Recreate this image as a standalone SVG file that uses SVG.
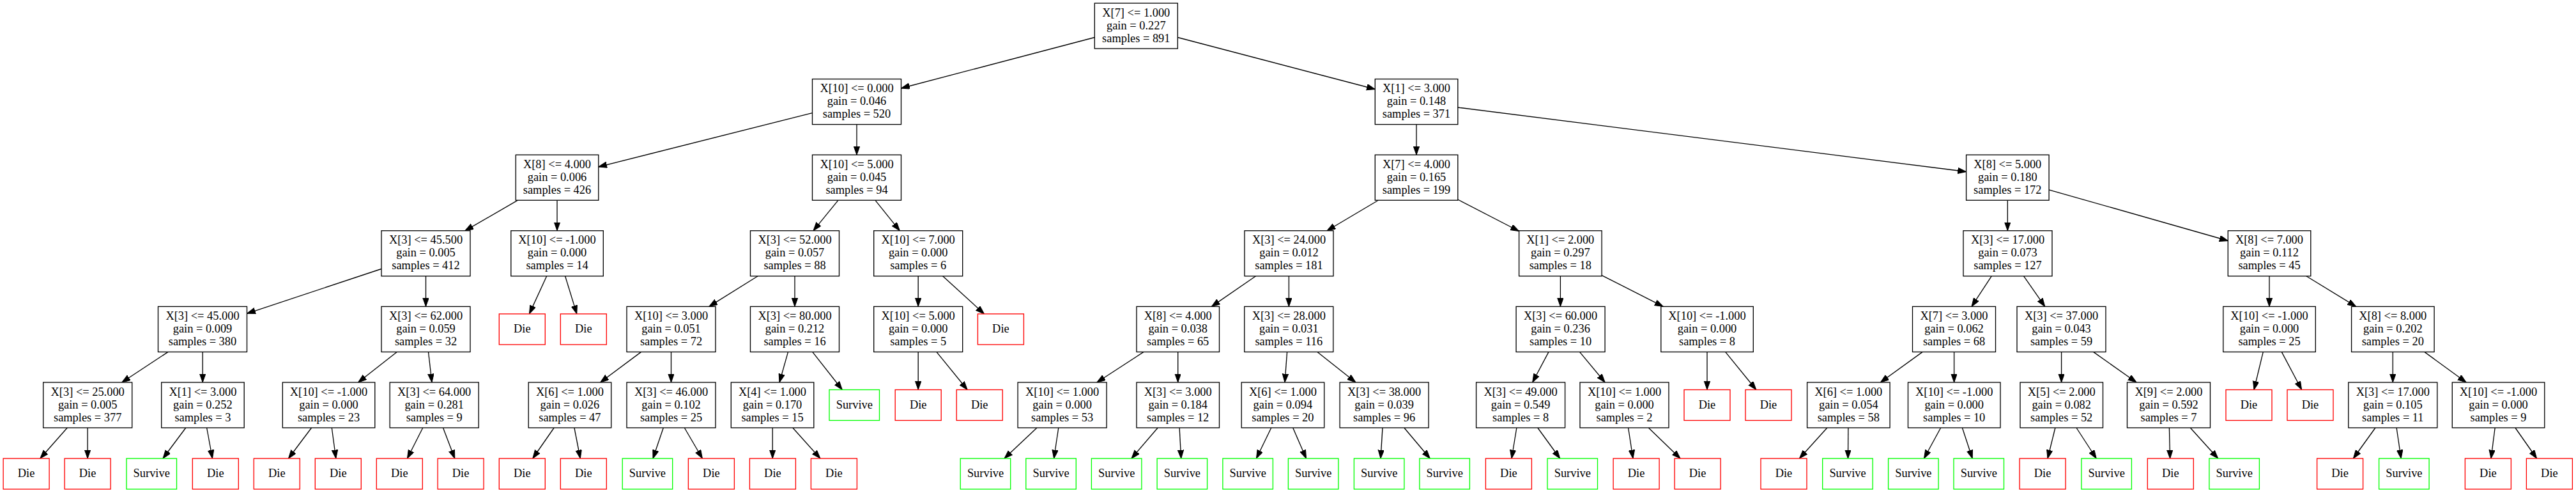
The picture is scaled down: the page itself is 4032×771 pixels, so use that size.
<svg xmlns="http://www.w3.org/2000/svg" width="4032" height="771" viewBox="0 0 4032 771">
<style>
.d rect{fill:#fff;stroke:#000;stroke-width:1.33}
.die rect{fill:#fff;stroke:#ff0000;stroke-width:1.33}
.sv rect{fill:#fff;stroke:#00ff00;stroke-width:1.33}
text{font-family:"Liberation Serif","Times New Roman",serif;font-size:18.4px;text-anchor:middle;fill:#000}
#edges path{fill:none;stroke:#000;stroke-width:1.33;marker-end:url(#ah)}
</style>
<defs>
<marker id="ah" markerUnits="userSpaceOnUse" markerWidth="15" markerHeight="11" viewBox="0 0 15 11" refX="13.3" refY="4.7" orient="auto"><path d="M0,0 L13.3,4.7 L0,9.4 z" fill="#000" stroke="#000" stroke-width="1"/></marker>
</defs>
<rect width="4032" height="771" fill="#fff"/>
<g id="edges">
<path d="M1713.3,58.5L1410.5,138"/>
<path d="M1843.3,58.5L2152.3,139.5"/>
<path d="M1271.5,176.7L936.7,261"/>
<path d="M1341,194.6L1341,242.2"/>
<path d="M2217,194.6L2217,242.2"/>
<path d="M2281.7,168L3077.5,268.5"/>
<path d="M810.5,313.2L727.9,360.8"/>
<path d="M872,313.2L872,360.8"/>
<path d="M1312,313.2L1273,360.8"/>
<path d="M1369.9,313.2L1408.3,360.8"/>
<path d="M2157.3,313.2L2077.1,360.8"/>
<path d="M2281.7,312L2377.6,361.5"/>
<path d="M3142.3,313.2L3142.3,360.8"/>
<path d="M3207,296.8L3487.3,376.5"/>
<path d="M597,420.5L386.5,490.3"/>
<path d="M666.5,431.8L666.5,479.4"/>
<path d="M855.7,431.8L828.5,490.9"/>
<path d="M884.6,431.8L902.8,490.9"/>
<path d="M1186.2,431.8L1109.8,479.4"/>
<path d="M1244,431.8L1244,479.4"/>
<path d="M1437.2,431.8L1437.2,479.4"/>
<path d="M1475.6,431.8L1540.5,490.9"/>
<path d="M1965.6,431.8L1896.4,479.4"/>
<path d="M2017.4,431.8L2017.4,479.4"/>
<path d="M2442.4,431.8L2442.4,479.4"/>
<path d="M2506.6,430.3L2603.2,479.4"/>
<path d="M3117.2,431.8L3086,479.4"/>
<path d="M3167.6,431.8L3200.8,479.4"/>
<path d="M3552,431.8L3552,479.4"/>
<path d="M3609.8,431.8L3687.7,479.4"/>
<path d="M263.1,550.4L190.8,598"/>
<path d="M317.2,550.4L317.2,598"/>
<path d="M621.2,550.4L560.6,598"/>
<path d="M670.5,550.4L676,598"/>
<path d="M1003.6,550.4L939.6,598"/>
<path d="M1050.5,550.4L1050.5,598"/>
<path d="M1233.5,550.4L1220,598"/>
<path d="M1271.7,550.4L1318.3,609.5"/>
<path d="M1437.2,550.4L1437.2,609.5"/>
<path d="M1465.9,550.4L1514.1,609.5"/>
<path d="M1790.1,550.4L1716.9,598"/>
<path d="M1843.7,550.4L1843.7,598"/>
<path d="M2014.6,550.4L2011,598"/>
<path d="M2062,550.4L2122,598"/>
<path d="M2424,550.4L2398.7,598"/>
<path d="M2472.5,550.4L2512.2,598"/>
<path d="M2672,550.4L2672,609.5"/>
<path d="M2700.6,550.4L2748.8,609.5"/>
<path d="M3009.2,550.4L2943.3,598"/>
<path d="M3058.6,550.4L3058.6,598"/>
<path d="M3226.6,550.4L3226.6,598"/>
<path d="M3276.6,550.4L3344,598"/>
<path d="M3542.3,550.4L3528,609.5"/>
<path d="M3571.3,550.4L3602.6,609.5"/>
<path d="M3745.3,550.4L3745.3,598"/>
<path d="M3794.8,550.4L3860.2,598"/>
<path d="M105.3,669L62.9,717"/>
<path d="M137.1,669L137.1,717"/>
<path d="M290.8,669L255,717"/>
<path d="M323.6,669L332.5,717"/>
<path d="M487.6,669L451.5,717"/>
<path d="M519.3,669L525.8,717"/>
<path d="M661.8,669L637.5,717"/>
<path d="M693.5,669L711.8,717"/>
<path d="M867.2,669L833.8,717"/>
<path d="M898.9,669L908.3,717"/>
<path d="M1038.3,669L1022,717"/>
<path d="M1071.3,669L1099.4,717"/>
<path d="M1209.2,669L1209.2,717"/>
<path d="M1240.8,669L1283.9,717"/>
<path d="M1623,669L1572,717"/>
<path d="M1656.8,669L1649.6,717"/>
<path d="M1812.2,669L1771,717"/>
<path d="M1846.1,669L1848.7,717"/>
<path d="M1989.8,669L1966.5,717"/>
<path d="M2023.7,669L2044.5,717"/>
<path d="M2164,669L2161,717"/>
<path d="M2197.8,669L2238.3,717"/>
<path d="M2373.9,669L2366,717"/>
<path d="M2406.8,669L2441.7,717"/>
<path d="M2548.6,669L2556,717"/>
<path d="M2580.3,669L2630,717"/>
<path d="M2859.9,669L2816.5,717"/>
<path d="M2892.9,669L2892.5,717"/>
<path d="M3037.7,669L3011.5,717"/>
<path d="M3071.4,669L3087.2,717"/>
<path d="M3216.9,669L3205,717"/>
<path d="M3250,669L3281.2,717"/>
<path d="M3395.4,669L3396.6,717"/>
<path d="M3428.3,669L3471.7,717"/>
<path d="M3718,669L3683.4,717"/>
<path d="M3751.1,669L3758.2,717"/>
<path d="M3905.2,669L3899,717"/>
<path d="M3936.9,669L3970.6,717"/>
</g>
<g id="root" class="d"><rect x="1713.3" y="5" width="130" height="71"/><text><tspan x="1778.3" y="25.5">X[7] &lt;= 1.000</tspan><tspan x="1778.3" y="45.5">gain = 0.227</tspan><tspan x="1778.3" y="65.5">samples = 891</tspan></text></g>
<g id="A" class="d"><rect x="1271.5" y="123.6" width="139" height="71"/><text><tspan x="1341" y="144.1">X[10] &lt;= 0.000</tspan><tspan x="1341" y="164.1">gain = 0.046</tspan><tspan x="1341" y="184.1">samples = 520</tspan></text></g>
<g id="B" class="d"><rect x="2152.3" y="123.6" width="129.5" height="71"/><text><tspan x="2217" y="144.1">X[1] &lt;= 3.000</tspan><tspan x="2217" y="164.1">gain = 0.148</tspan><tspan x="2217" y="184.1">samples = 371</tspan></text></g>
<g id="A1" class="d"><rect x="807.3" y="242.2" width="129.5" height="71"/><text><tspan x="872" y="262.7">X[8] &lt;= 4.000</tspan><tspan x="872" y="282.7">gain = 0.006</tspan><tspan x="872" y="302.7">samples = 426</tspan></text></g>
<g id="A2" class="d"><rect x="1271.5" y="242.2" width="139" height="71"/><text><tspan x="1341" y="262.7">X[10] &lt;= 5.000</tspan><tspan x="1341" y="282.7">gain = 0.045</tspan><tspan x="1341" y="302.7">samples = 94</tspan></text></g>
<g id="B1" class="d"><rect x="2152.3" y="242.2" width="129.5" height="71"/><text><tspan x="2217" y="262.7">X[7] &lt;= 4.000</tspan><tspan x="2217" y="282.7">gain = 0.165</tspan><tspan x="2217" y="302.7">samples = 199</tspan></text></g>
<g id="B2" class="d"><rect x="3077.6" y="242.2" width="129.5" height="71"/><text><tspan x="3142.3" y="262.7">X[8] &lt;= 5.000</tspan><tspan x="3142.3" y="282.7">gain = 0.180</tspan><tspan x="3142.3" y="302.7">samples = 172</tspan></text></g>
<g id="A1a" class="d"><rect x="597" y="360.8" width="139" height="71"/><text><tspan x="666.5" y="381.3">X[3] &lt;= 45.500</tspan><tspan x="666.5" y="401.3">gain = 0.005</tspan><tspan x="666.5" y="421.3">samples = 412</tspan></text></g>
<g id="A1b" class="d"><rect x="799.8" y="360.8" width="144.5" height="71"/><text><tspan x="872" y="381.3">X[10] &lt;= -1.000</tspan><tspan x="872" y="401.3">gain = 0.000</tspan><tspan x="872" y="421.3">samples = 14</tspan></text></g>
<g id="A2a" class="d"><rect x="1174.5" y="360.8" width="139" height="71"/><text><tspan x="1244" y="381.3">X[3] &lt;= 52.000</tspan><tspan x="1244" y="401.3">gain = 0.057</tspan><tspan x="1244" y="421.3">samples = 88</tspan></text></g>
<g id="A2b" class="d"><rect x="1367.7" y="360.8" width="139" height="71"/><text><tspan x="1437.2" y="381.3">X[10] &lt;= 7.000</tspan><tspan x="1437.2" y="401.3">gain = 0.000</tspan><tspan x="1437.2" y="421.3">samples = 6</tspan></text></g>
<g id="B1a" class="d"><rect x="1948" y="360.8" width="139" height="71"/><text><tspan x="2017.5" y="381.3">X[3] &lt;= 24.000</tspan><tspan x="2017.5" y="401.3">gain = 0.012</tspan><tspan x="2017.5" y="421.3">samples = 181</tspan></text></g>
<g id="B1b" class="d"><rect x="2377.6" y="360.8" width="129.5" height="71"/><text><tspan x="2442.3" y="381.3">X[1] &lt;= 2.000</tspan><tspan x="2442.3" y="401.3">gain = 0.297</tspan><tspan x="2442.3" y="421.3">samples = 18</tspan></text></g>
<g id="B2a" class="d"><rect x="3073" y="360.8" width="139" height="71"/><text><tspan x="3142.5" y="381.3">X[3] &lt;= 17.000</tspan><tspan x="3142.5" y="401.3">gain = 0.073</tspan><tspan x="3142.5" y="421.3">samples = 127</tspan></text></g>
<g id="B2b" class="d"><rect x="3487.3" y="360.8" width="129.5" height="71"/><text><tspan x="3552" y="381.3">X[8] &lt;= 7.000</tspan><tspan x="3552" y="401.3">gain = 0.112</tspan><tspan x="3552" y="421.3">samples = 45</tspan></text></g>
<g id="n1" class="d"><rect x="247.5" y="479.4" width="139" height="71"/><text><tspan x="317" y="499.9">X[3] &lt;= 45.000</tspan><tspan x="317" y="519.9">gain = 0.009</tspan><tspan x="317" y="539.9">samples = 380</tspan></text></g>
<g id="n2" class="d"><rect x="597" y="479.4" width="139" height="71"/><text><tspan x="666.5" y="499.9">X[3] &lt;= 62.000</tspan><tspan x="666.5" y="519.9">gain = 0.059</tspan><tspan x="666.5" y="539.9">samples = 32</tspan></text></g>
<g id="n3" class="d"><rect x="981" y="479.4" width="139" height="71"/><text><tspan x="1050.5" y="499.9">X[10] &lt;= 3.000</tspan><tspan x="1050.5" y="519.9">gain = 0.051</tspan><tspan x="1050.5" y="539.9">samples = 72</tspan></text></g>
<g id="n4" class="d"><rect x="1174.5" y="479.4" width="139" height="71"/><text><tspan x="1244" y="499.9">X[3] &lt;= 80.000</tspan><tspan x="1244" y="519.9">gain = 0.212</tspan><tspan x="1244" y="539.9">samples = 16</tspan></text></g>
<g id="n5" class="d"><rect x="1367.7" y="479.4" width="139" height="71"/><text><tspan x="1437.2" y="499.9">X[10] &lt;= 5.000</tspan><tspan x="1437.2" y="519.9">gain = 0.000</tspan><tspan x="1437.2" y="539.9">samples = 5</tspan></text></g>
<g id="n6" class="d"><rect x="1779" y="479.4" width="129.5" height="71"/><text><tspan x="1843.7" y="499.9">X[8] &lt;= 4.000</tspan><tspan x="1843.7" y="519.9">gain = 0.038</tspan><tspan x="1843.7" y="539.9">samples = 65</tspan></text></g>
<g id="n7" class="d"><rect x="1947.8" y="479.4" width="139" height="71"/><text><tspan x="2017.3" y="499.9">X[3] &lt;= 28.000</tspan><tspan x="2017.3" y="519.9">gain = 0.031</tspan><tspan x="2017.3" y="539.9">samples = 116</tspan></text></g>
<g id="n8" class="d"><rect x="2373.1" y="479.4" width="139" height="71"/><text><tspan x="2442.6" y="499.9">X[3] &lt;= 60.000</tspan><tspan x="2442.6" y="519.9">gain = 0.236</tspan><tspan x="2442.6" y="539.9">samples = 10</tspan></text></g>
<g id="n9" class="d"><rect x="2599.8" y="479.4" width="144.5" height="71"/><text><tspan x="2672" y="499.9">X[10] &lt;= -1.000</tspan><tspan x="2672" y="519.9">gain = 0.000</tspan><tspan x="2672" y="539.9">samples = 8</tspan></text></g>
<g id="n10" class="d"><rect x="2993.5" y="479.4" width="130" height="71"/><text><tspan x="3058.5" y="499.9">X[7] &lt;= 3.000</tspan><tspan x="3058.5" y="519.9">gain = 0.062</tspan><tspan x="3058.5" y="539.9">samples = 68</tspan></text></g>
<g id="n11" class="d"><rect x="3157" y="479.4" width="139" height="71"/><text><tspan x="3226.5" y="499.9">X[3] &lt;= 37.000</tspan><tspan x="3226.5" y="519.9">gain = 0.043</tspan><tspan x="3226.5" y="539.9">samples = 59</tspan></text></g>
<g id="n12" class="d"><rect x="3479.8" y="479.4" width="144.5" height="71"/><text><tspan x="3552" y="499.9">X[10] &lt;= -1.000</tspan><tspan x="3552" y="519.9">gain = 0.000</tspan><tspan x="3552" y="539.9">samples = 25</tspan></text></g>
<g id="n13" class="d"><rect x="3680.6" y="479.4" width="129.5" height="71"/><text><tspan x="3745.3" y="499.9">X[8] &lt;= 8.000</tspan><tspan x="3745.3" y="519.9">gain = 0.202</tspan><tspan x="3745.3" y="539.9">samples = 20</tspan></text></g>
<g id="m1" class="d"><rect x="67.7" y="598" width="139" height="71"/><text><tspan x="137.2" y="618.5">X[3] &lt;= 25.000</tspan><tspan x="137.2" y="638.5">gain = 0.005</tspan><tspan x="137.2" y="658.5">samples = 377</tspan></text></g>
<g id="m2" class="d"><rect x="252.7" y="598" width="129.5" height="71"/><text><tspan x="317.4" y="618.5">X[1] &lt;= 3.000</tspan><tspan x="317.4" y="638.5">gain = 0.252</tspan><tspan x="317.4" y="658.5">samples = 3</tspan></text></g>
<g id="m3" class="d"><rect x="442.3" y="598" width="144.5" height="71"/><text><tspan x="514.5" y="618.5">X[10] &lt;= -1.000</tspan><tspan x="514.5" y="638.5">gain = 0.000</tspan><tspan x="514.5" y="658.5">samples = 23</tspan></text></g>
<g id="m4" class="d"><rect x="610.2" y="598" width="139" height="71"/><text><tspan x="679.7" y="618.5">X[3] &lt;= 64.000</tspan><tspan x="679.7" y="638.5">gain = 0.281</tspan><tspan x="679.7" y="658.5">samples = 9</tspan></text></g>
<g id="m5" class="d"><rect x="827.2" y="598" width="129.5" height="71"/><text><tspan x="891.9" y="618.5">X[6] &lt;= 1.000</tspan><tspan x="891.9" y="638.5">gain = 0.026</tspan><tspan x="891.9" y="658.5">samples = 47</tspan></text></g>
<g id="m6" class="d"><rect x="981" y="598" width="139" height="71"/><text><tspan x="1050.5" y="618.5">X[3] &lt;= 46.000</tspan><tspan x="1050.5" y="638.5">gain = 0.102</tspan><tspan x="1050.5" y="658.5">samples = 25</tspan></text></g>
<g id="m7" class="d"><rect x="1144.3" y="598" width="129.5" height="71"/><text><tspan x="1209" y="618.5">X[4] &lt;= 1.000</tspan><tspan x="1209" y="638.5">gain = 0.170</tspan><tspan x="1209" y="658.5">samples = 15</tspan></text></g>
<g id="m8" class="d"><rect x="1593.1" y="598" width="139" height="71"/><text><tspan x="1662.6" y="618.5">X[10] &lt;= 1.000</tspan><tspan x="1662.6" y="638.5">gain = 0.000</tspan><tspan x="1662.6" y="658.5">samples = 53</tspan></text></g>
<g id="m9" class="d"><rect x="1779" y="598" width="129.5" height="71"/><text><tspan x="1843.7" y="618.5">X[3] &lt;= 3.000</tspan><tspan x="1843.7" y="638.5">gain = 0.184</tspan><tspan x="1843.7" y="658.5">samples = 12</tspan></text></g>
<g id="m10" class="d"><rect x="1943.2" y="598" width="129.5" height="71"/><text><tspan x="2007.9" y="618.5">X[6] &lt;= 1.000</tspan><tspan x="2007.9" y="638.5">gain = 0.094</tspan><tspan x="2007.9" y="658.5">samples = 20</tspan></text></g>
<g id="m11" class="d"><rect x="2097.1" y="598" width="139" height="71"/><text><tspan x="2166.6" y="618.5">X[3] &lt;= 38.000</tspan><tspan x="2166.6" y="638.5">gain = 0.039</tspan><tspan x="2166.6" y="658.5">samples = 96</tspan></text></g>
<g id="m12" class="d"><rect x="2310.6" y="598" width="139" height="71"/><text><tspan x="2380.1" y="618.5">X[3] &lt;= 49.000</tspan><tspan x="2380.1" y="638.5">gain = 0.549</tspan><tspan x="2380.1" y="658.5">samples = 8</tspan></text></g>
<g id="m13" class="d"><rect x="2473" y="598" width="139" height="71"/><text><tspan x="2542.5" y="618.5">X[10] &lt;= 1.000</tspan><tspan x="2542.5" y="638.5">gain = 0.000</tspan><tspan x="2542.5" y="658.5">samples = 2</tspan></text></g>
<g id="m14" class="d"><rect x="2828.6" y="598" width="129.5" height="71"/><text><tspan x="2893.3" y="618.5">X[6] &lt;= 1.000</tspan><tspan x="2893.3" y="638.5">gain = 0.054</tspan><tspan x="2893.3" y="658.5">samples = 58</tspan></text></g>
<g id="m15" class="d"><rect x="2986.5" y="598" width="144.5" height="71"/><text><tspan x="3058.7" y="618.5">X[10] &lt;= -1.000</tspan><tspan x="3058.7" y="638.5">gain = 0.000</tspan><tspan x="3058.7" y="658.5">samples = 10</tspan></text></g>
<g id="m16" class="d"><rect x="3162" y="598" width="129.5" height="71"/><text><tspan x="3226.7" y="618.5">X[5] &lt;= 2.000</tspan><tspan x="3226.7" y="638.5">gain = 0.082</tspan><tspan x="3226.7" y="658.5">samples = 52</tspan></text></g>
<g id="m17" class="d"><rect x="3329.5" y="598" width="130" height="71"/><text><tspan x="3394.5" y="618.5">X[9] &lt;= 2.000</tspan><tspan x="3394.5" y="638.5">gain = 0.592</tspan><tspan x="3394.5" y="658.5">samples = 7</tspan></text></g>
<g id="m18" class="d"><rect x="3675.8" y="598" width="139" height="71"/><text><tspan x="3745.3" y="618.5">X[3] &lt;= 17.000</tspan><tspan x="3745.3" y="638.5">gain = 0.105</tspan><tspan x="3745.3" y="658.5">samples = 11</tspan></text></g>
<g id="m19" class="d"><rect x="3838.3" y="598" width="144.5" height="71"/><text><tspan x="3910.5" y="618.5">X[10] &lt;= -1.000</tspan><tspan x="3910.5" y="638.5">gain = 0.000</tspan><tspan x="3910.5" y="658.5">samples = 9</tspan></text></g>
<g id="leafA1b_1" class="die"><rect x="781.3" y="490.9" width="72" height="48"/><text x="817.3" y="520">Die</text></g>
<g id="leafA1b_2" class="die"><rect x="877.3" y="490.9" width="72" height="48"/><text x="913.3" y="520">Die</text></g>
<g id="leafA2b_2" class="die"><rect x="1530.4" y="490.9" width="72" height="48"/><text x="1566.4" y="520">Die</text></g>
<g id="leafn4_2" class="sv"><rect x="1298" y="609.5" width="78.5" height="48"/><text x="1337.3" y="638.5">Survive</text></g>
<g id="leafn5_1" class="die"><rect x="1401.2" y="609.5" width="72" height="48"/><text x="1437.2" y="638.5">Die</text></g>
<g id="leafn5_2" class="die"><rect x="1497.2" y="609.5" width="72" height="48"/><text x="1533.2" y="638.5">Die</text></g>
<g id="leafn9_1" class="die"><rect x="2636" y="609.5" width="72" height="48"/><text x="2672" y="638.5">Die</text></g>
<g id="leafn9_2" class="die"><rect x="2732" y="609.5" width="72" height="48"/><text x="2768" y="638.5">Die</text></g>
<g id="leafn12_1" class="die"><rect x="3484" y="609.5" width="72" height="48"/><text x="3520" y="638.5">Die</text></g>
<g id="leafn12_2" class="die"><rect x="3580" y="609.5" width="72" height="48"/><text x="3616" y="638.5">Die</text></g>
<g id="L1" class="die"><rect x="5.1" y="717" width="72" height="48"/><text x="41.1" y="746">Die</text></g>
<g id="L2" class="die"><rect x="101.1" y="717" width="72" height="48"/><text x="137.1" y="746">Die</text></g>
<g id="L3" class="sv"><rect x="198" y="717" width="78.5" height="48"/><text x="237.2" y="746">Survive</text></g>
<g id="L4" class="die"><rect x="301.3" y="717" width="72" height="48"/><text x="337.3" y="746">Die</text></g>
<g id="L5" class="die"><rect x="397.3" y="717" width="72" height="48"/><text x="433.3" y="746">Die</text></g>
<g id="L6" class="die"><rect x="493.3" y="717" width="72" height="48"/><text x="529.3" y="746">Die</text></g>
<g id="L7" class="die"><rect x="589.3" y="717" width="72" height="48"/><text x="625.3" y="746">Die</text></g>
<g id="L8" class="die"><rect x="685.1" y="717" width="72" height="48"/><text x="721.1" y="746">Die</text></g>
<g id="L9" class="die"><rect x="781.3" y="717" width="72" height="48"/><text x="817.3" y="746">Die</text></g>
<g id="L10" class="die"><rect x="877.3" y="717" width="72" height="48"/><text x="913.3" y="746">Die</text></g>
<g id="L11" class="sv"><rect x="974.2" y="717" width="78.5" height="48"/><text x="1013.4" y="746">Survive</text></g>
<g id="L12" class="die"><rect x="1077.4" y="717" width="72" height="48"/><text x="1113.4" y="746">Die</text></g>
<g id="L13" class="die"><rect x="1173.4" y="717" width="72" height="48"/><text x="1209.4" y="746">Die</text></g>
<g id="L14" class="die"><rect x="1269.4" y="717" width="72" height="48"/><text x="1305.4" y="746">Die</text></g>
<g id="L15" class="sv"><rect x="1503.2" y="717" width="78.5" height="48"/><text x="1542.5" y="746">Survive</text></g>
<g id="L16" class="sv"><rect x="1605.8" y="717" width="78.5" height="48"/><text x="1645.1" y="746">Survive</text></g>
<g id="L17" class="sv"><rect x="1708.4" y="717" width="78.5" height="48"/><text x="1747.7" y="746">Survive</text></g>
<g id="L18" class="sv"><rect x="1811.1" y="717" width="78.5" height="48"/><text x="1850.4" y="746">Survive</text></g>
<g id="L19" class="sv"><rect x="1913.9" y="717" width="78.5" height="48"/><text x="1953.2" y="746">Survive</text></g>
<g id="L20" class="sv"><rect x="2016.4" y="717" width="78.5" height="48"/><text x="2055.7" y="746">Survive</text></g>
<g id="L21" class="sv"><rect x="2119.4" y="717" width="78.5" height="48"/><text x="2158.7" y="746">Survive</text></g>
<g id="L22" class="sv"><rect x="2221.9" y="717" width="78.5" height="48"/><text x="2261.2" y="746">Survive</text></g>
<g id="L23" class="die"><rect x="2325.4" y="717" width="72" height="48"/><text x="2361.4" y="746">Die</text></g>
<g id="L24" class="sv"><rect x="2422" y="717" width="78.5" height="48"/><text x="2461.3" y="746">Survive</text></g>
<g id="L25" class="die"><rect x="2525.1" y="717" width="72" height="48"/><text x="2561.1" y="746">Die</text></g>
<g id="L26" class="die"><rect x="2621.1" y="717" width="72" height="48"/><text x="2657.1" y="746">Die</text></g>
<g id="L27" class="die"><rect x="2756" y="717" width="72" height="48"/><text x="2792" y="746">Die</text></g>
<g id="L28" class="sv"><rect x="2852.7" y="717" width="78.5" height="48"/><text x="2892" y="746">Survive</text></g>
<g id="L29" class="sv"><rect x="2955.6" y="717" width="78.5" height="48"/><text x="2994.9" y="746">Survive</text></g>
<g id="L30" class="sv"><rect x="3058" y="717" width="78.5" height="48"/><text x="3097.3" y="746">Survive</text></g>
<g id="L31" class="die"><rect x="3161.1" y="717" width="72" height="48"/><text x="3197.1" y="746">Die</text></g>
<g id="L32" class="sv"><rect x="3257.9" y="717" width="78.5" height="48"/><text x="3297.2" y="746">Survive</text></g>
<g id="L33" class="die"><rect x="3361.3" y="717" width="72" height="48"/><text x="3397.3" y="746">Die</text></g>
<g id="L34" class="sv"><rect x="3457.9" y="717" width="78.5" height="48"/><text x="3497.2" y="746">Survive</text></g>
<g id="L35" class="die"><rect x="3626.6" y="717" width="72" height="48"/><text x="3662.6" y="746">Die</text></g>
<g id="L36" class="sv"><rect x="3723.6" y="717" width="78.5" height="48"/><text x="3762.9" y="746">Survive</text></g>
<g id="L37" class="die"><rect x="3858.4" y="717" width="72" height="48"/><text x="3894.4" y="746">Die</text></g>
<g id="L38" class="die"><rect x="3954.4" y="717" width="72" height="48"/><text x="3990.4" y="746">Die</text></g>
</svg>
